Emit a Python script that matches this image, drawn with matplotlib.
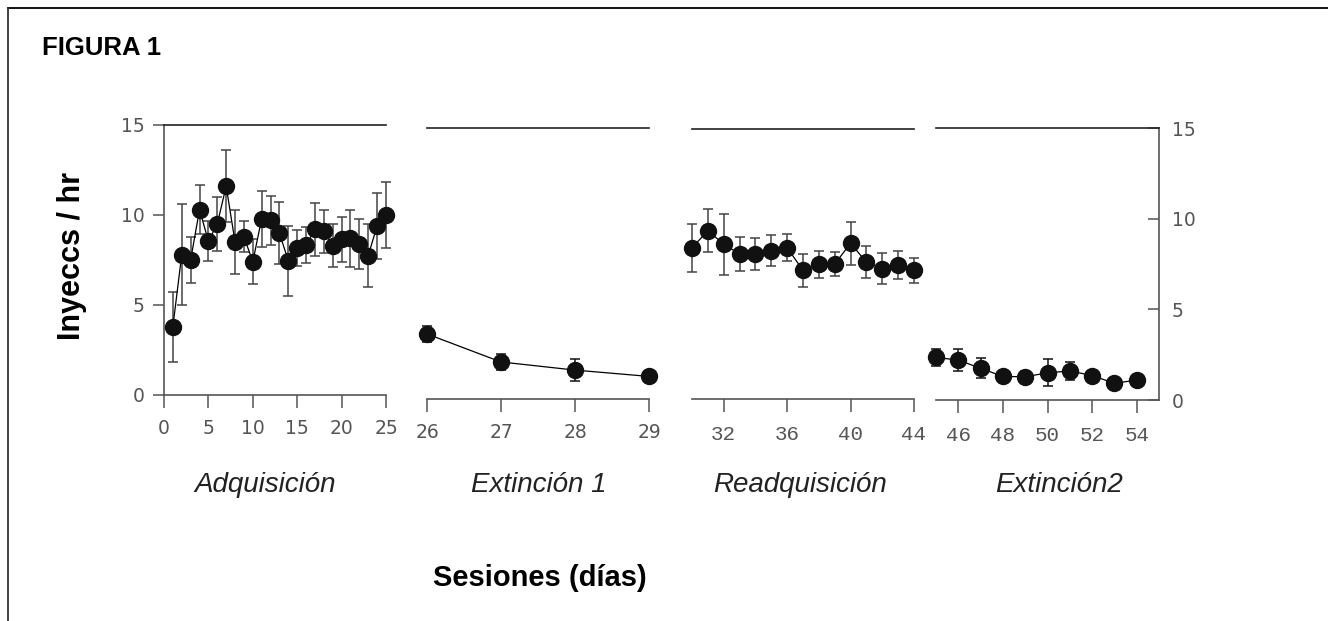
import numpy as np
import matplotlib.pyplot as plt
from matplotlib.lines import Line2D

# Adquisición (sesiones 1-25)
adq_x = list(range(1, 26))
adq_y = [3.8, 7.8, 7.5, 10.3, 8.55, 9.5, 11.6, 8.5, 8.8, 7.4, 9.8, 9.7, 9.0, 7.45,
         8.15, 8.35, 9.2, 9.1, 8.3, 8.65, 8.7, 8.4, 7.75, 9.4, 10.0]
adq_err = [1.95, 2.8, 1.3, 1.35, 1.1, 1.5, 2.0, 1.8, 0.85, 1.25, 1.55, 1.35, 1.7, 1.95,
           1.0, 1.0, 1.45, 1.2, 1.2, 1.25, 1.6, 1.4, 1.75, 1.85, 1.85]

# Extinción 1 (sesiones 26-29)
ext1_x = [26, 27, 28, 29]
ext1_y = [3.6, 2.05, 1.6, 1.25]
ext1_err = [0.42, 0.45, 0.62, 0.2]

# Readquisición (sesiones 30-44)
readq_x = list(range(30, 45))
readq_y = [8.4, 9.35, 8.6, 8.05, 8.05, 8.25, 8.4, 7.15, 7.5, 7.5, 8.65, 7.6, 7.25, 7.45, 7.15]
readq_err = [1.35, 1.2, 1.7, 0.95, 0.9, 0.88, 0.75, 0.9, 0.75, 0.68, 1.2, 0.88, 0.85, 0.8, 0.7]

# Extinción 2 (sesiones 45-54)
ext2_x = list(range(45, 55))
ext2_y = [2.35, 2.2, 1.75, 1.3, 1.28, 1.5, 1.6, 1.35, 0.92, 1.1]
ext2_err = [0.45, 0.6, 0.55, 0.3, 0.3, 0.75, 0.5, 0.2, 0.1, 0.2]

W, H = 1328, 621
fig = plt.figure(figsize=(W / 100, H / 100), dpi=100)

axis_col = "#555555"
tick_col = "#555555"


def add_ax(x0, x1, ytop, ybot):
    return fig.add_axes([x0 / W, 1 - ybot / H, (x1 - x0) / W, (ybot - ytop) / H])


def draw(ax, x, y, err, ecol):
    eb = ax.errorbar(x, y, yerr=err, fmt="none", ecolor=ecol, elinewidth=1.1,
                     capsize=3.5, capthick=1.1, zorder=2)
    for art in eb.lines[1] + eb.lines[2]:
        art.set_clip_on(False)
    ax.plot(x, y, color="black", lw=0.9, marker="o", markersize=11.5,
            markerfacecolor="#111111", markeredgecolor="#111111", zorder=3,
            clip_on=False)
    ax.set_ylim(0, 15)
    for s in ax.spines.values():
        s.set_color(axis_col)
        s.set_linewidth(1.2)
    ax.spines["top"].set_color("#222222")
    ax.tick_params(axis="x", direction="out", length=9, width=1.1, color=axis_col,
                   labelcolor=tick_col, labelsize=13.5, pad=8)
    ax.tick_params(axis="y", direction="out", length=8, width=1.1, color=axis_col,
                   labelcolor=tick_col, labelsize=13.5, pad=6)


# panel 1
ax1 = add_ax(164, 386, 125, 395)
draw(ax1, adq_x, adq_y, adq_err, "#444444")
ax1.set_xlim(0, 25)
ax1.set_xticks([0, 5, 10, 15, 20, 25])
ax1.set_yticks([0, 5, 10, 15])
ax1.spines["right"].set_visible(False)

# panel 2
ax2 = add_ax(427, 649, 128, 399)
draw(ax2, ext1_x, ext1_y, ext1_err, "#111111")
ax2.set_xlim(26, 29)
ax2.set_xticks([26, 27, 28, 29])
ax2.spines["left"].set_visible(False)
ax2.spines["right"].set_visible(False)
ax2.set_yticks([])

# panel 3
ax3 = add_ax(692, 914, 129, 399)
draw(ax3, readq_x, readq_y, readq_err, "#444444")
ax3.set_xlim(30, 44)
ax3.set_xticks([32, 36, 40, 44])
ax3.spines["left"].set_visible(False)
ax3.spines["right"].set_visible(False)
ax3.set_yticks([])
ax3.tick_params(axis="x", labelsize=15, pad=10)
for t in ax3.get_xticklabels():
    t.set_family("Liberation Mono")

# panel 4
ax4 = add_ax(936, 1159, 128, 400)
draw(ax4, ext2_x, ext2_y, ext2_err, "#111111")
ax4.set_xlim(45, 55)
ax4.set_xticks([46, 48, 50, 52, 54])
ax4.spines["left"].set_visible(False)
ax4.yaxis.tick_right()
ax4.set_yticks([0, 5, 10, 15])
ax4.tick_params(axis="y", direction="in", length=8, pad=9)
ax4.tick_params(axis="x", labelsize=15, pad=10)
for t in ax4.get_xticklabels():
    t.set_family("Liberation Mono")

# texts
fig.text(42 / W, 1 - 48 / H, "FIGURA 1", family="Liberation Sans", fontweight="bold",
         fontsize=18.5, ha="left", va="center")
fig.text(72 / W, 1 - 256 / H, "Inyeccs / hr", family="Liberation Sans", fontweight="bold",
         fontsize=22, rotation=90, ha="center", va="center")
fig.text(540 / W, 1 - 578 / H, "Sesiones (días)", family="Liberation Sans", fontweight="bold",
         fontsize=21, ha="center", va="center")

phase_names = ["Adquisición", "Extinción 1", "Readquisición", "Extinción2"]
phase_cx = [265, 539, 800, 1059]
for name, cx in zip(phase_names, phase_cx):
    fig.text(cx / W, 1 - 485 / H, name, family="Liberation Sans", style="italic",
             fontsize=20, color="#222222", ha="center", va="center")

# frame lines (top and left)
fig.add_artist(Line2D([8 / W, 1], [1 - 8 / H, 1 - 8 / H], color="black", lw=1.3))
fig.add_artist(Line2D([8 / W, 8 / W], [0, 1 - 8 / H], color="#333333", lw=1.3))

fig.savefig("out.png", dpi=100)
